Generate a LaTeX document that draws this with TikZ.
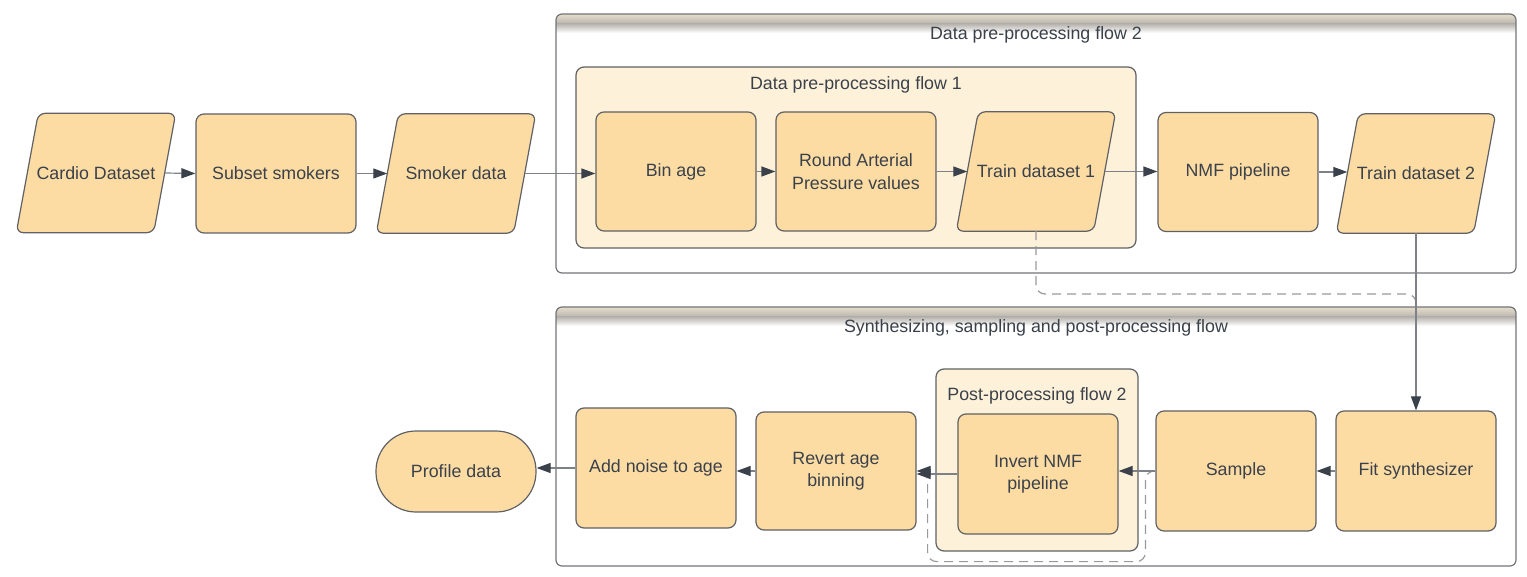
\documentclass[tikz,border=0pt]{standalone}
\usepackage{fontspec}
\setmainfont{Liberation Sans}
\usetikzlibrary{arrows.meta,calc}
\definecolor{nodefill}{HTML}{FDDCA4}
\definecolor{nodeborder}{HTML}{5F6165}
\definecolor{groupfill}{HTML}{FEF1D9}
\definecolor{contborder}{HTML}{727478}
\definecolor{textc}{HTML}{3A414A}
\definecolor{linec}{HTML}{7E8288}
\definecolor{tipc}{HTML}{3A414A}
\definecolor{dashc}{HTML}{9A9A9A}
\definecolor{bandtop}{HTML}{E6DDCB}
\definecolor{bandmid}{HTML}{B8B5B0}
\pgfdeclarelayer{back}
\pgfdeclarelayer{mid}
\pgfsetlayers{back,mid,main}
\begin{document}
\begin{tikzpicture}[x=1pt,y=-1pt,
  txt/.style={text=textc, font=\fontsize{17.8}{22.5}\selectfont, align=center},
  box/.style={txt, draw=nodeborder, fill=nodefill, line width=1.2pt, rounded corners=8pt,
    minimum width=160pt, minimum height=119pt, inner sep=0pt},
  paranode/.style={txt, minimum width=137pt, minimum height=119pt, inner sep=0pt},
  parashape/.style={draw=nodeborder, fill=nodefill, line width=1.2pt, rounded corners=7pt},
  conn/.style={draw=linec, line width=1.2pt, -{Triangle[length=14pt,width=10pt,color=tipc]}},
  dashconn/.style={draw=dashc, line width=1.2pt, dash pattern=on 9pt off 6pt, rounded corners=9pt},
  cont/.style={draw=contborder, line width=1.2pt, rounded corners=6pt},
  group/.style={draw=nodeborder, fill=groupfill, line width=1.2pt, rounded corners=8pt}
]
\useasboundingbox (0,0) rectangle (1527,577);

% ---- containers ----
\begin{pgfonlayer}{back}
  % flow 2 container
  \fill[white, rounded corners=6pt] (556,14) rectangle (1516,273);
  \begin{scope}
    \clip[rounded corners=6pt] (556,14) rectangle (1516,273);
    \fill[top color=bandtop, bottom color=bandmid] (556,14) rectangle (1516,24);
    \fill[top color=bandmid, bottom color=white] (556,24) rectangle (1516,33);
  \end{scope}
  \draw[cont] (556,14) rectangle (1516,273);
  % synth container
  \fill[white, rounded corners=6pt] (556,307) rectangle (1516,566);
  \begin{scope}
    \clip[rounded corners=6pt] (556,307) rectangle (1516,566);
    \fill[top color=bandtop, bottom color=bandmid] (556,307) rectangle (1516,317);
    \fill[top color=bandmid, bottom color=white] (556,317) rectangle (1516,326);
  \end{scope}
  \draw[cont] (556,307) rectangle (1516,566);
  % inner groups
  \draw[group] (576,67) rectangle (1136,248);
  \draw[group] (936,369) rectangle (1138,551);
\end{pgfonlayer}

% ---- titles ----
\node[txt] (t2) at (1036,35) {Data pre-processing flow 2};
\node[txt] (t1) at (856,84.5) {Data pre-processing flow 1};
\node[txt] (t3) at (1036,327.5) {Synthesizing, sampling and post-processing flow};
\node[txt] (t4) at (1037,395.5) {Post-processing flow 2};

% ---- row 1 ----
\node[paranode] (cardio) at (96,173) {Cardio Dataset};
\node[box] (subset) at (276,173.5) {Subset smokers};
\node[paranode] (smoker) at (456,173.5) {Smoker data};
\node[box] (binage) at (676,171.5) {Bin age};
\node[box] (round) at (856,171.5) {Round Arterial\\Pressure values};
\node[paranode] (train1) at (1036,171.5) {Train dataset 1};
\node[box] (nmf) at (1238,172) {NMF pipeline};
\node[paranode] (train2) at (1416,173.5) {Train dataset 2};

% ---- row 2 ----
\node[box, minimum height=120pt] (fit) at (1416,471) {Fit synthesizer};
\node[box, minimum height=120pt] (sample) at (1236,471) {Sample};
\node[box, minimum height=120pt] (invert) at (1038,474) {Invert NMF\\pipeline};
\node[box, minimum height=118pt] (revert) at (836,471) {Revert age\\binning};
\node[box, minimum height=120pt] (addnoise) at (656,468) {Add noise to age};
\node[box, minimum height=81pt, rounded corners=40pt] (profile) at (456,471.5) {Profile data};

% ---- parallelogram outlines ----
\begin{pgfonlayer}{mid}
  \foreach \n in {cardio,smoker,train1,train2}{
    \path[parashape] ($(\n.north)+(11,0)$) -- ($(\n.north east)+(11,0)$)
      -- ($(\n.south east)+(-11,0)$) -- ($(\n.south west)+(-11,0)$)
      -- ($(\n.north west)+(11,0)$) -- cycle;
  }
\end{pgfonlayer}

% ---- dashed connectors ----
\coordinate (dj) at (1416,302);
\draw[dashconn] (train1.south) |- ($(dj)+(0,-8)$) -- (dj);
\draw[dashconn, -{Triangle[length=14pt,width=10pt,color=tipc]}]
  (sample.west) -- ([xshift=-10pt]sample.west) |- ($(invert.south)+(0,27)$)
  -| ([xshift=11pt]revert.east) -- (revert.east);

% ---- connectors ----
\draw[conn] (cardio.east) -- (subset.west);
\draw[conn] (subset.east) -- (smoker.west);
\draw[conn] (smoker.east) -- (smoker.east -| binage.west);
\draw[conn] (binage.east) -- (round.west);
\draw[conn] (round.east) -- (train1.west);
\draw[conn] (train1.east) -- (train1.east -| nmf.west);
\draw[conn] (nmf.east) -- (nmf.east -| train2.west);
\draw[conn] (train2.south) -- (fit.north);
\draw[conn] (fit.west) -- (fit.west -| sample.east);
\draw[conn] (sample.west) -- (sample.west -| invert.east);
\draw[conn] (invert.west) -- (invert.west -| revert.east);
\draw[conn] (revert.west) -- (revert.west -| addnoise.east);
\draw[conn] (addnoise.west) -- (addnoise.west -| profile.east);
\end{tikzpicture}
\end{document}
